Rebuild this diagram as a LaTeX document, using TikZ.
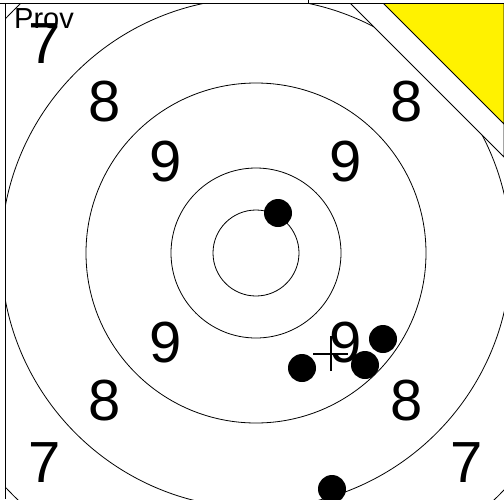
\documentclass[tikz,border=0pt]{standalone}
\usepackage{fontspec}
\setmainfont{Liberation Sans}
\begin{document}
\begin{tikzpicture}[x=1pt,y=-1pt,
  ring/.style={draw=black,line width=0.8pt},
  shot/.style={fill=black},
  digit/.style={inner sep=0pt,font=\fontsize{58}{58}\selectfont}]
\useasboundingbox (0,0) rectangle (504,499);
\fill[white] (0,0) rectangle (504,499);
\begin{scope}
  \clip (5,3) rectangle (504,499);
  \coordinate (c) at (256,253);
  \draw[ring] (c) circle[radius=43];
  \draw[ring] (c) circle[radius=85];
  \draw[ring] (c) circle[radius=170];
  \draw[ring] (c) circle[radius=255];
  \draw[ring] (c) circle[radius=343];
  % digits
  \node[digit] (n7a) at (45,44) {7};
  \node[digit] (n7b) at (45,463) {7};
  \node[digit] (n7c) at (467,463) {7};
  \node[digit] (n8a) at (105,102) {8};
  \node[digit] (n8b) at (407,102) {8};
  \node[digit] (n8c) at (105,401) {8};
  \node[digit] (n8d) at (407,401) {8};
  \node[digit] (n9a) at (166,162) {9};
  \node[digit] (n9b) at (346,162) {9};
  \node[digit] (n9c) at (166,343) {9};
  \node[digit] (n9d) at (346,343) {9};
  % shots
  \fill[shot] (278,213) circle[radius=14];
  \fill[shot] (302,368) circle[radius=14];
  \fill[shot] (383,339) circle[radius=14];
  \fill[shot] (365,365) circle[radius=14];
  \fill[shot] (332,489) circle[radius=14];
  % cross
  \coordinate (x) at (331,354);
  \draw[line width=1.6pt] ([xshift=-18pt]x) -- ([xshift=17pt]x);
  \draw[line width=1.6pt] ([yshift=-17pt]x) -- ([yshift=18pt]x);
  % corner cover
  \filldraw[fill=white,draw=black,line width=0.8pt] (350,3) -- (504,157) -- (504,3) -- cycle;
  \filldraw[fill=yellow,draw=black,line width=0.8pt] (383,3) -- (504,124) -- (504,3) -- cycle;
\end{scope}
% frame
\draw[line width=0.9pt] (0,3) -- (504,3);
\draw[line width=0.9pt] (5,3) -- (5,499);
\draw[line width=0.9pt] (308,0) -- (308,3);
\node[anchor=base west,inner sep=0pt,font=\fontsize{29}{29}\selectfont] (prov) at (14,28) {Prov};
\end{tikzpicture}
\end{document}
